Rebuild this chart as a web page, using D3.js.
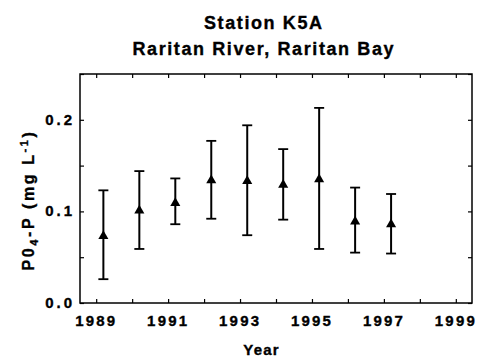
<!DOCTYPE html>
<html>
<head>
<meta charset="utf-8">
<script src="https://cdn.jsdelivr.net/npm/d3@7"></script>
<style>
  html, body { margin: 0; padding: 0; background: #fff; }
  svg { display: block; }
  text { font-family: "Liberation Sans", Arial, Helvetica, sans-serif; font-weight: bold; fill: #000; stroke: #000; stroke-width: 0.35px; }
</style>
</head>
<body>
<svg id="chart" width="477" height="358"></svg>
<script>
// Annual mean PO4-P at station K5A with error bars
const years = [1989.2, 1990.2, 1991.2, 1992.2, 1993.2, 1994.2, 1995.2, 1996.2, 1997.2];
const means = [0.073, 0.101, 0.109, 0.134, 0.133, 0.129, 0.135, 0.089, 0.086];
const upper = [0.123, 0.144, 0.136, 0.177, 0.194, 0.168, 0.213, 0.126, 0.119];
const lower = [0.026, 0.059, 0.086, 0.092, 0.074, 0.091, 0.059, 0.055, 0.054];

const xTickLabels = [1989, 1991, 1993, 1995, 1997, 1999];
const xMinorTicks = [1989, 1990, 1991, 1992, 1993, 1994, 1995, 1996, 1997, 1998, 1999];
const yTickLabels = [0.0, 0.1, 0.2];
const yMinorTicks = [0.05, 0.15, 0.25];

const titleLines = ["Station K5A", "Raritan River, Raritan Bay"];

const W = 477, H = 358;
const margin = { top: 74, right: 5, bottom: 55, left: 80 };
const iw = W - margin.left - margin.right;
const ih = H - margin.top - margin.bottom;

const svg = d3.select("#chart");
const g = svg.append("g").attr("transform", `translate(${margin.left},${margin.top})`);

const x = d3.scaleLinear().domain([1988.55, 1999.45]).range([0, iw]);
const y = d3.scaleLinear().domain([0, 0.25]).range([ih, 0]);

// Inward ticks on all four sides
const tickLen = 4;
const styleAxis = sel => {
  sel.select(".domain").remove();
  sel.selectAll("line").attr("stroke", "#000").attr("stroke-width", 1.2);
};

g.append("g").attr("transform", `translate(0,${ih})`)
  .call(d3.axisBottom(x).tickValues(xMinorTicks).tickSize(-tickLen).tickFormat(""))
  .call(styleAxis);
g.append("g")
  .call(d3.axisTop(x).tickValues(xMinorTicks).tickSize(-tickLen).tickFormat(""))
  .call(styleAxis);
g.append("g")
  .call(d3.axisLeft(y).tickValues(yTickLabels.concat(yMinorTicks)).tickSize(-tickLen).tickFormat(""))
  .call(styleAxis);
g.append("g").attr("transform", `translate(${iw},0)`)
  .call(d3.axisRight(y).tickValues(yTickLabels.concat(yMinorTicks)).tickSize(-tickLen).tickFormat(""))
  .call(styleAxis);

// Tick labels
const xSp = 2.2, ySp = 3;
g.append("g").selectAll("text").data(xTickLabels).join("text")
  .attr("x", d => x(d) - 1 + xSp / 2)
  .attr("y", ih + 23)
  .attr("text-anchor", "middle")
  .style("font-size", "15px")
  .style("letter-spacing", xSp + "px")
  .text(d => d);

g.append("g").selectAll("text").data(yTickLabels).join("text")
  .attr("x", -8 + ySp)
  .attr("y", d => y(d) + 5)
  .attr("text-anchor", "end")
  .style("font-size", "15px")
  .style("letter-spacing", ySp + "px")
  .text(d => d3.format(".1f")(d));

// Frame
g.append("rect")
  .attr("x", 0).attr("y", 0).attr("width", iw).attr("height", ih)
  .attr("fill", "none").attr("stroke", "#000").attr("stroke-width", 1.5);

// Error bars
const capW = 5;
const bars = g.append("g").selectAll("g").data(years).join("g");
bars.append("line")
  .attr("x1", d => x(d)).attr("x2", d => x(d))
  .attr("y1", (d, i) => y(upper[i])).attr("y2", (d, i) => y(lower[i]))
  .attr("stroke", "#000").attr("stroke-width", 2);
bars.append("line")
  .attr("x1", d => x(d) - capW).attr("x2", d => x(d) + capW)
  .attr("y1", (d, i) => y(upper[i])).attr("y2", (d, i) => y(upper[i]))
  .attr("stroke", "#000").attr("stroke-width", 1.8);
bars.append("line")
  .attr("x1", d => x(d) - capW).attr("x2", d => x(d) + capW)
  .attr("y1", (d, i) => y(lower[i])).attr("y2", (d, i) => y(lower[i]))
  .attr("stroke", "#000").attr("stroke-width", 1.8);

// Mean markers
g.append("g").selectAll("path").data(years).join("path")
  .attr("transform", (d, i) => `translate(${x(d)},${y(means[i])})`)
  .attr("d", d3.symbol(d3.symbolTriangle, 44))
  .attr("fill", "#000");

// Titles
const tSp = 1.6;
svg.append("g").selectAll("text").data(titleLines).join("text")
  .attr("x", 263 + tSp / 2)
  .attr("y", (d, i) => 29 + i * 26)
  .attr("text-anchor", "middle")
  .style("font-size", "18px")
  .style("letter-spacing", tSp + "px")
  .text(d => d);

// Axis titles
svg.append("text")
  .attr("x", 261 + 0.6)
  .attr("y", 355)
  .attr("text-anchor", "middle")
  .style("font-size", "15px")
  .style("letter-spacing", "1.2px")
  .text("Year");

const yTitle = svg.append("text")
  .attr("transform", "translate(34,200) rotate(-90)")
  .attr("text-anchor", "middle")
  .style("font-size", "16px")
  .style("letter-spacing", "2.6px");
yTitle.append("tspan").text("P0");
yTitle.append("tspan").attr("dy", 4).style("font-size", "11px").text("4");
yTitle.append("tspan").attr("dy", -4).text("-P (mg L");
yTitle.append("tspan").attr("dy", -6).style("font-size", "11px").text("-1");
yTitle.append("tspan").attr("dy", 6).text(")");
</script>
</body>
</html>
